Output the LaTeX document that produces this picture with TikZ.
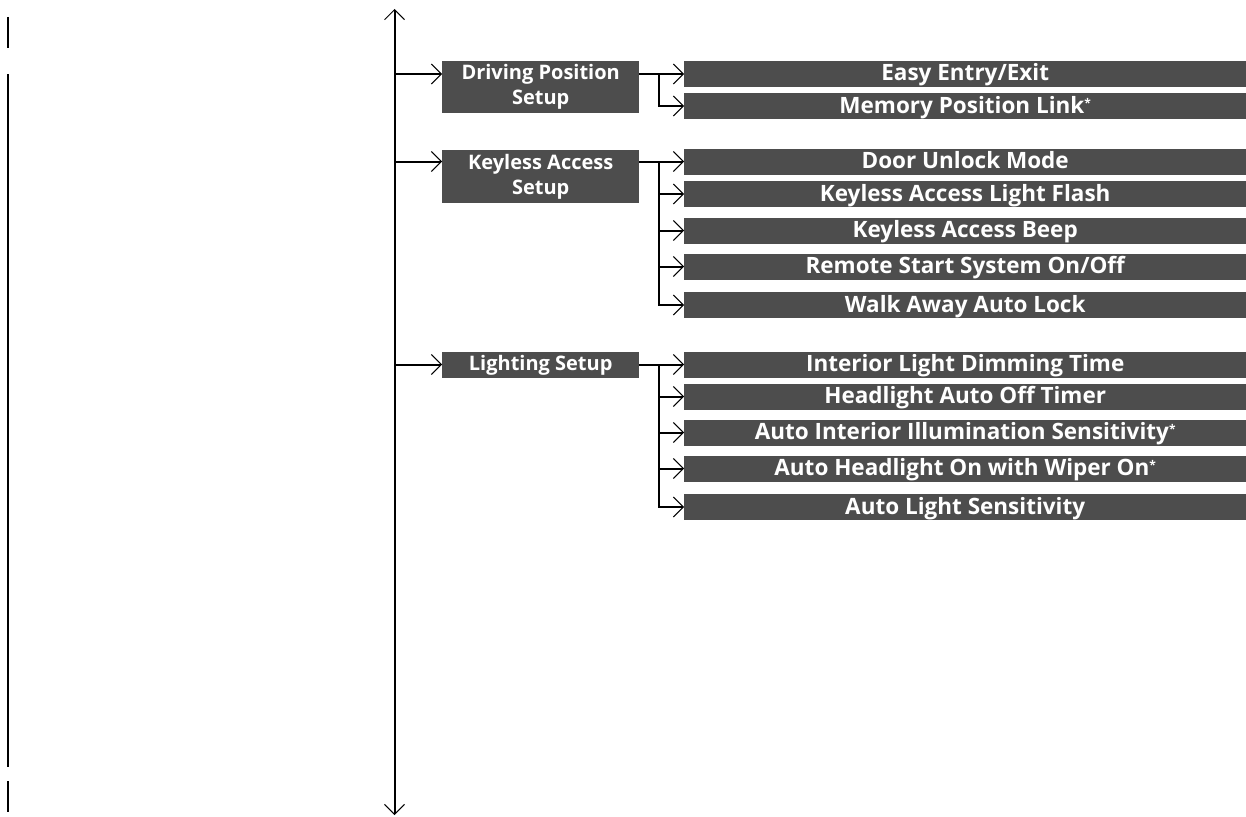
\documentclass[tikz,border=0pt]{standalone}
\usepackage{fontspec}
\setmainfont{Open Sans}
\usetikzlibrary{arrows.meta,calc}
\definecolor{boxgray}{RGB}{77,77,77}
\tikzset{
  tip/.tip={Straight Barb[length=10pt,width=20pt,line width=1pt]},
  conn/.style={line width=2pt,-tip},
  lvlone/.style={fill=boxgray,text=white,font=\fontsize{20}{25}\selectfont\bfseries,
    minimum width=197pt,inner sep=0pt,align=center,anchor=north west},
  lvltwo/.style={fill=boxgray,text=white,font=\fontsize{22.5}{26}\selectfont\bfseries,
    minimum width=562pt,minimum height=26pt,inner sep=0pt,anchor=west,
    text height=18pt,text depth=4pt},
  edge/.style={line width=2pt}
}
\newcommand{\myast}{{\fontsize{12}{12}\selectfont\raisebox{6pt}{*}}}
\begin{document}
\begin{tikzpicture}[x=1pt,y=-1pt]
\useasboundingbox (0,0) rectangle (1246,816);
% left edge marks
\draw[edge] (8,17) coordinate (la) -- (8,48) coordinate (lb);
\draw[edge] (8,74) coordinate (lc) -- (8,767) coordinate (ld);
\draw[edge] (8,781) coordinate (le) -- (8,812) coordinate (lf);
% main vertical
\coordinate (top) at (394.5,9);
\coordinate (bot) at (394.5,815);
\draw[line width=2pt,tip-tip] (top) -- (bot);
\coordinate (br) at (659,0);
% level one
\node[lvlone,minimum height=52pt] (d) at (442,61) {Driving Position\\Setup};
\node[lvlone,minimum height=53pt] (k) at (442,150) {Keyless Access\\Setup};
\node[lvlone,minimum height=26pt] (l) at (442,352) {Lighting Setup};
% level two
\node[lvltwo] (d1) at (684,74) {Easy Entry/Exit};
\node[lvltwo] (d2) at (684,106) {Memory Position Link\myast};
\node[lvltwo] (k1) at (684,161.5) {Door Unlock Mode};
\node[lvltwo] (k2) at (684,194) {Keyless Access Light Flash};
\node[lvltwo] (k3) at (684,230.5) {Keyless Access Beep};
\node[lvltwo] (k4) at (684,266.5) {Remote Start System On/Off};
\node[lvltwo] (k5) at (684,305) {Walk Away Auto Lock};
\node[lvltwo] (l1) at (684,364.5) {Interior Light Dimming Time};
\node[lvltwo] (l2) at (684,396.5) {Headlight Auto Off Timer};
\node[lvltwo] (l3) at (684,432.5) {Auto Interior Illumination Sensitivity\myast};
\node[lvltwo] (l4) at (684,468.5) {Auto Headlight On with Wiper On\myast};
\node[lvltwo] (l5) at (684,507) {Auto Light Sensitivity};
% main to level one
\draw[conn] (top |- d1) -- (d.west |- d1);
\draw[conn] (top |- k1) -- (k.west |- k1);
\draw[conn] (top |- l1) -- (l.west |- l1);
% level one to level two
\draw[conn] (d.east |- d1) -- (d1.west);
\draw[conn] (br |- d1) |- (d2.west);
\draw[conn] (k.east |- k1) -- (k1.west);
\foreach \n in {k2,k3,k4} \draw[conn] (br |- \n) -- (\n.west);
\draw[conn] (br |- k1) |- (k5.west);
\draw[conn] (l.east |- l1) -- (l1.west);
\foreach \n in {l2,l3,l4} \draw[conn] (br |- \n) -- (\n.west);
\draw[conn] (br |- l1) |- (l5.west);
\end{tikzpicture}
\end{document}
